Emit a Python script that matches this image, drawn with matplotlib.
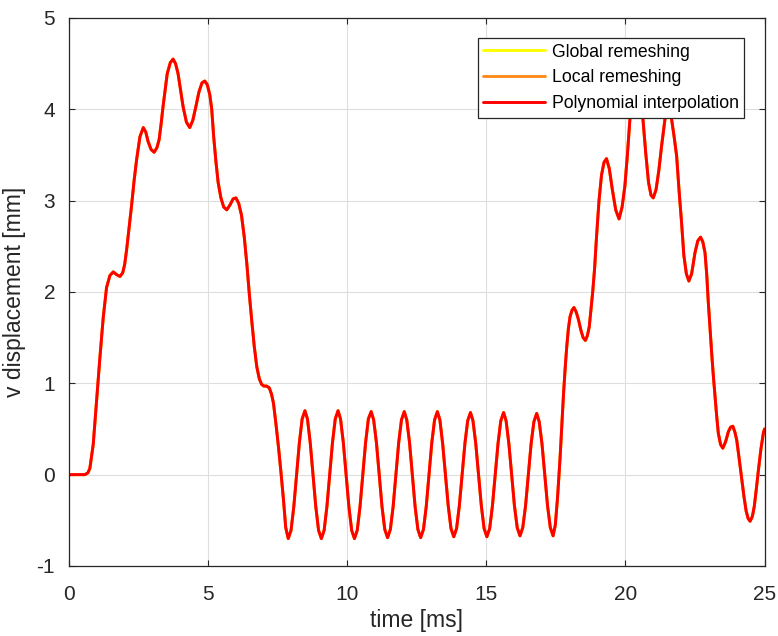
#!/usr/bin/env python3

import numpy as np
import matplotlib
matplotlib.use("Agg")
import matplotlib.pyplot as plt

# first hump, t [ms] and v [mm]
t_rise = [0.00, 0.30, 0.57, 0.68, 0.75, 0.87, 0.99, 1.11, 1.23, 1.35,
          1.47, 1.59, 1.71, 1.83, 1.93, 2.00, 2.07, 2.16, 2.25, 2.34,
          2.43, 2.55, 2.67, 2.76, 2.84, 2.95, 3.06, 3.16, 3.24, 3.31,
          3.38, 3.46, 3.53, 3.64, 3.74, 3.83, 3.92, 4.01, 4.10, 4.22,
          4.34, 4.45, 4.56, 4.67, 4.78, 4.88, 4.97, 5.06, 5.13, 5.20,
          5.28, 5.36, 5.46, 5.56, 5.67, 5.78, 5.90, 6.00, 6.10, 6.20,
          6.30, 6.40, 6.48, 6.57, 6.66, 6.75, 6.84, 6.92, 7.00, 7.10,
          7.20, 7.28, 7.35, 7.44, 7.53, 7.62, 7.71, 7.79]
v_rise = [0.00, 0.00, 0.00, 0.02, 0.07, 0.33, 0.81, 1.28, 1.72, 2.05,
          2.18, 2.22, 2.19, 2.17, 2.21, 2.30, 2.46, 2.70, 2.95, 3.22,
          3.45, 3.70, 3.80, 3.75, 3.65, 3.56, 3.53, 3.58, 3.67, 3.84,
          4.03, 4.22, 4.39, 4.51, 4.55, 4.50, 4.39, 4.21, 4.03, 3.86,
          3.80, 3.88, 4.03, 4.19, 4.29, 4.31, 4.27, 4.16, 4.00, 3.70,
          3.43, 3.20, 3.03, 2.93, 2.90, 2.95, 3.02, 3.03, 2.97, 2.84,
          2.60, 2.28, 1.98, 1.68, 1.40, 1.18, 1.05, 0.99, 0.97, 0.97,
          0.95, 0.88, 0.78, 0.55, 0.30, 0.02, -0.28, -0.58]

# free vibration part
t_osc = [7.88, 7.98, 8.08, 8.18, 8.28, 8.38, 8.48, 8.57, 8.67, 8.77,
         8.87, 8.97, 9.07, 9.17, 9.27, 9.37, 9.47, 9.57, 9.67, 9.76,
         9.86, 9.96, 10.06, 10.16, 10.26, 10.36, 10.46, 10.56, 10.66, 10.76,
         10.86, 10.95, 11.05, 11.15, 11.25, 11.35, 11.45, 11.55, 11.65, 11.75,
         11.85, 11.95, 12.05, 12.14, 12.24, 12.34, 12.44, 12.54, 12.64, 12.74,
         12.84, 12.94, 13.04, 13.14, 13.24, 13.33, 13.43, 13.53, 13.63, 13.73,
         13.83, 13.93, 14.03, 14.13, 14.23, 14.33, 14.43, 14.52, 14.62, 14.72,
         14.82, 14.92, 15.02, 15.12, 15.22, 15.32, 15.42, 15.52, 15.62, 15.71,
         15.81, 15.91, 16.01, 16.11, 16.21, 16.31, 16.41, 16.51, 16.61, 16.71,
         16.81, 16.90, 17.00, 17.10, 17.20, 17.30, 17.40]
v_osc = [-0.70, -0.61, -0.35, 0.00, 0.35, 0.61, 0.70, 0.61, 0.35, 0.00,
         -0.35, -0.61, -0.70, -0.61, -0.35, 0.00, 0.35, 0.61, 0.70, 0.61,
         0.35, 0.00, -0.35, -0.61, -0.70, -0.61, -0.35, 0.00, 0.35, 0.61,
         0.69, 0.60, 0.35, 0.00, -0.35, -0.60, -0.69, -0.60, -0.35, 0.00,
         0.35, 0.60, 0.69, 0.60, 0.35, 0.00, -0.35, -0.60, -0.69, -0.60,
         -0.35, 0.00, 0.35, 0.60, 0.69, 0.60, 0.34, 0.00, -0.34, -0.59,
         -0.68, -0.59, -0.34, 0.00, 0.34, 0.59, 0.68, 0.59, 0.34, 0.00,
         -0.34, -0.59, -0.68, -0.59, -0.34, 0.00, 0.34, 0.59, 0.68, 0.59,
         0.34, 0.00, -0.34, -0.58, -0.67, -0.58, -0.34, 0.00, 0.34, 0.58,
         0.67, 0.58, 0.34, 0.00, -0.34, -0.58, -0.67]

# second hump
t_hump = [17.48, 17.56, 17.65, 17.72, 17.77, 17.83, 17.89, 17.95, 18.01, 18.08,
          18.15, 18.23, 18.31, 18.40, 18.48, 18.56, 18.63, 18.70, 18.76, 18.82,
          18.89, 18.96, 19.05, 19.14, 19.23, 19.32, 19.42, 19.53, 19.65, 19.77,
          19.88, 19.98, 20.07, 20.16, 20.26, 20.36, 20.44, 20.53, 20.63, 20.73,
          20.83, 20.92, 21.00, 21.10, 21.20, 21.30, 21.42, 21.54, 21.66, 21.75,
          21.84, 21.93, 22.02, 22.10, 22.19, 22.28, 22.38, 22.50, 22.60, 22.70,
          22.78, 22.86, 22.92, 22.98, 23.04, 23.10, 23.16, 23.22, 23.28, 23.34,
          23.42, 23.50, 23.60, 23.70, 23.78, 23.86, 23.93, 24.00, 24.09, 24.18,
          24.26, 24.34, 24.41, 24.48, 24.56, 24.63, 24.70, 24.78, 24.87, 24.96,
          25.00]
v_hump = [-0.55, -0.25, 0.18, 0.58, 0.86, 1.15, 1.40, 1.60, 1.73, 1.80,
          1.83, 1.78, 1.70, 1.58, 1.50, 1.47, 1.52, 1.62, 1.80, 1.99,
          2.25, 2.60, 3.00, 3.28, 3.42, 3.46, 3.35, 3.12, 2.90, 2.80,
          2.93, 3.16, 3.50, 3.89, 4.18, 4.34, 4.33, 4.16, 3.89, 3.52,
          3.20, 3.06, 3.03, 3.12, 3.33, 3.60, 3.89, 4.03, 3.89, 3.70,
          3.49, 3.10, 2.75, 2.40, 2.20, 2.12, 2.20, 2.43, 2.56, 2.60,
          2.55, 2.43, 2.20, 1.88, 1.60, 1.33, 1.08, 0.86, 0.64, 0.45,
          0.33, 0.29, 0.36, 0.47, 0.52, 0.53, 0.47, 0.38, 0.17, -0.05,
          -0.24, -0.40, -0.48, -0.51, -0.46, -0.35, -0.17, 0.05, 0.28, 0.46,
          0.50]

labels = ["Global remeshing", "Local remeshing", "Polynomial interpolation"]
colors = ["#ffff00", "#ff8c1a", "#ff0000"]

x_ticks = [0, 5, 10, 15, 20, 25]
y_ticks = [-1, 0, 1, 2, 3, 4, 5]


def main():
    t = np.array(t_rise + t_osc + t_hump)
    v = np.array(v_rise + v_osc + v_hump)

    plt.rcParams["font.family"] = ["Liberation Sans", "DejaVu Sans"]
    plt.rcParams["axes.unicode_minus"] = False
    dark = "#262626"

    fig = plt.figure(figsize=(7.78, 6.36), dpi=100)
    ax = fig.add_axes([0.0887, 0.1101, 0.894, 0.8616])

    # all three methods give the same curve, red drawn last on top
    for lab, col in zip(labels, colors):
        ax.plot(t, v, color=col, lw=2.1, label=lab,
                solid_joinstyle="round", solid_capstyle="round")

    ax.set_xlim(0, 25)
    ax.set_ylim(-1, 5)
    ax.set_xticks(x_ticks)
    ax.set_yticks(y_ticks)
    ax.grid(True, color="#dedede", lw=0.8)
    ax.set_axisbelow(True)

    for sp in ax.spines.values():
        sp.set_color(dark)
        sp.set_linewidth(0.9)
    ax.tick_params(direction="in", length=4, width=0.8, colors=dark,
                   labelsize=15, top=True, right=True)
    ax.tick_params(axis="x", pad=14)
    ax.tick_params(axis="y", pad=10)

    ax.set_xlabel("time [ms]", fontsize=16.5, color=dark, labelpad=3)
    ax.set_ylabel("v displacement [mm]", fontsize=16.5, color=dark, labelpad=8)

    leg = ax.legend(loc="upper right", fontsize=12.7, frameon=True,
                    fancybox=False, framealpha=1, edgecolor=dark,
                    handlelength=3.5, handletextpad=0.4, labelspacing=0.5,
                    borderpad=0.3, borderaxespad=1.15)
    leg.get_frame().set_linewidth(0.9)
    leg.set_zorder(10)

    fig.savefig("out.png", dpi=100)


if __name__ == "__main__":
    main()
